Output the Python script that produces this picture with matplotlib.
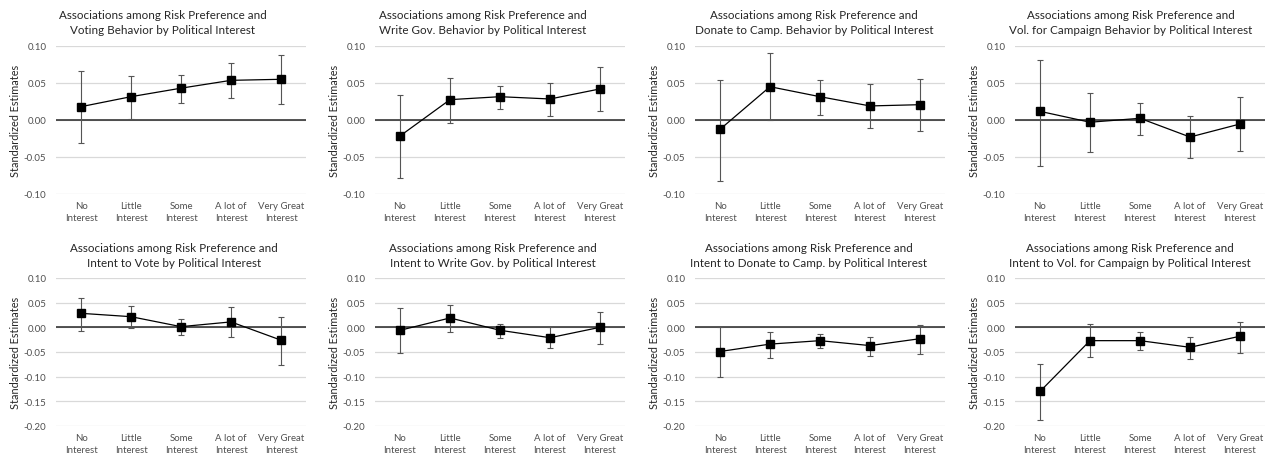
#!/usr/bin/env python3
"""Risk preference associations by political interest, 2x4 panel grid."""

import matplotlib
matplotlib.use("Agg")
import matplotlib.pyplot as plt
from matplotlib.ticker import FormatStrFormatter, MultipleLocator

plt.rcParams["font.family"] = ["Lato", "DejaVu Sans"]
plt.rcParams["axes.unicode_minus"] = False

categories = ["No\nInterest", "Little\nInterest", "Some\nInterest",
              "A lot of\nInterest", "Very Great\nInterest"]

titles = [
    "Associations among Risk Preference and\nVoting Behavior by Political Interest",
    "Associations among Risk Preference and\nWrite Gov. Behavior by Political Interest",
    "Associations among Risk Preference and\nDonate to Camp. Behavior by Political Interest",
    "Associations among Risk Preference and\nVol. for Campaign Behavior by Political Interest",
    "Associations among Risk Preference and\nIntent to Vote by Political Interest",
    "Associations among Risk Preference and\nIntent to Write Gov. by Political Interest",
    "Associations among Risk Preference and\nIntent to Donate to Camp. by Political Interest",
    "Associations among Risk Preference and\nIntent to Vol. for Campaign by Political Interest",
]

# estimates with lower / upper bounds of the error bars
vote_est = [0.018, 0.0315, 0.043, 0.0536, 0.055]
vote_lo = [-0.0315, 0.001, 0.0234, 0.0297, 0.0212]
vote_hi = [0.0667, 0.060, 0.061, 0.0775, 0.0874]

write_est = [-0.0216, 0.0275, 0.0315, 0.0284, 0.042]
write_lo = [-0.078, -0.0036, 0.0153, 0.0054, 0.0117]
write_hi = [0.034, 0.057, 0.046, 0.0495, 0.0716]

donate_est = [-0.0126, 0.045, 0.0315, 0.019, 0.0207]
donate_lo = [-0.082, 0.0, 0.0063, -0.0105, -0.0153]
donate_hi = [0.054, 0.091, 0.054, 0.0486, 0.056]

vol_est = [0.0117, -0.003, 0.0023, -0.023, -0.0054]
vol_lo = [-0.0617, -0.0437, -0.0207, -0.051, -0.0414]
vol_hi = [0.0815, 0.036, 0.023, 0.005, 0.0306]

int_vote_est = [0.0284, 0.0216, 0.0014, 0.011, -0.026]
int_vote_lo = [-0.0074, -0.0007, -0.016, -0.0196, -0.077]
int_vote_hi = [0.060, 0.0426, 0.016, 0.041, 0.021]

int_write_est = [-0.006, 0.019, -0.006, -0.021, 0.0]
int_write_lo = [-0.0527, -0.010, -0.021, -0.041, -0.034]
int_write_hi = [0.039, 0.045, 0.0068, 0.0, 0.031]

int_donate_est = [-0.049, -0.034, -0.027, -0.037, -0.023]
int_donate_lo = [-0.100, -0.0615, -0.041, -0.0588, -0.054]
int_donate_hi = [0.0, -0.0095, -0.0135, -0.0196, 0.0054]

int_vol_est = [-0.130, -0.027, -0.027, -0.0405, -0.018]
int_vol_lo = [-0.187, -0.060, -0.045, -0.064, -0.052]
int_vol_hi = [-0.0736, 0.0068, -0.0088, -0.0196, 0.0115]

series = [
    (vote_est, vote_lo, vote_hi),
    (write_est, write_lo, write_hi),
    (donate_est, donate_lo, donate_hi),
    (vol_est, vol_lo, vol_hi),
    (int_vote_est, int_vote_lo, int_vote_hi),
    (int_write_est, int_write_lo, int_write_hi),
    (int_donate_est, int_donate_lo, int_donate_hi),
    (int_vol_est, int_vol_lo, int_vol_hi),
]

row_ylims = [(-0.10, 0.10), (-0.20, 0.10)]

W, H = 1265, 456
fig = plt.figure(figsize=(W / 100, H / 100), dpi=100)

# layout in pixels
col_left = [56, 375, 695, 1015]
ax_w = 250
row_top = [47, 279]
ax_h = 148
title_x = [163, 483, 814, 1131, 174, 493, 809, 1130]
title_y = [23, 256]

TEXT = "#262626"
TICK = "#505050"

for i, (est, lo, hi) in enumerate(series):
    r, c = divmod(i, 4)
    left = col_left[c] / W
    bottom = 1 - (row_top[r] + ax_h) / H
    ax = fig.add_axes([left, bottom, ax_w / W, ax_h / H])

    x = list(range(len(categories)))
    yerr = [[e - l for e, l in zip(est, lo)], [h - e for e, h in zip(est, hi)]]

    ymin, ymax = row_ylims[r]
    ax.set_ylim(ymin, ymax)
    ax.set_xlim(-0.5, len(categories) - 0.5)
    ax.yaxis.set_major_locator(MultipleLocator(0.05))
    ax.yaxis.set_major_formatter(FormatStrFormatter("%.2f"))
    ax.grid(axis="y", color="#d9d9d9", linewidth=0.9)
    ax.set_axisbelow(True)
    ax.axhline(0, color="#262626", linewidth=1.1, zorder=1)

    ax.errorbar(x, est, yerr=yerr, fmt="none", ecolor="#555555",
                elinewidth=0.8, capsize=2.2, capthick=0.8, zorder=2)
    ax.plot(x, est, color="black", linewidth=0.9, marker="s",
            markersize=5.3, zorder=3)

    ax.set_xticks(x)
    ax.set_xticklabels(categories, fontsize=6.9, color=TICK, linespacing=1.45)
    ax.tick_params(axis="both", length=0)
    ax.tick_params(axis="y", labelsize=7, labelcolor=TICK, pad=7)
    ax.tick_params(axis="x", pad=5)
    for s in ax.spines.values():
        s.set_visible(False)

    ax.set_ylabel("Standardized Estimates", fontsize=7.8, color=TEXT)
    ax.yaxis.set_label_coords(-35 / ax_w, 0.5)

    fig.text(title_x[i] / W, 1 - title_y[r] / H, titles[i], ha="center",
             va="center", fontsize=8.4, color=TEXT, linespacing=1.55)

fig.savefig("out.png", dpi=100, facecolor="white")
